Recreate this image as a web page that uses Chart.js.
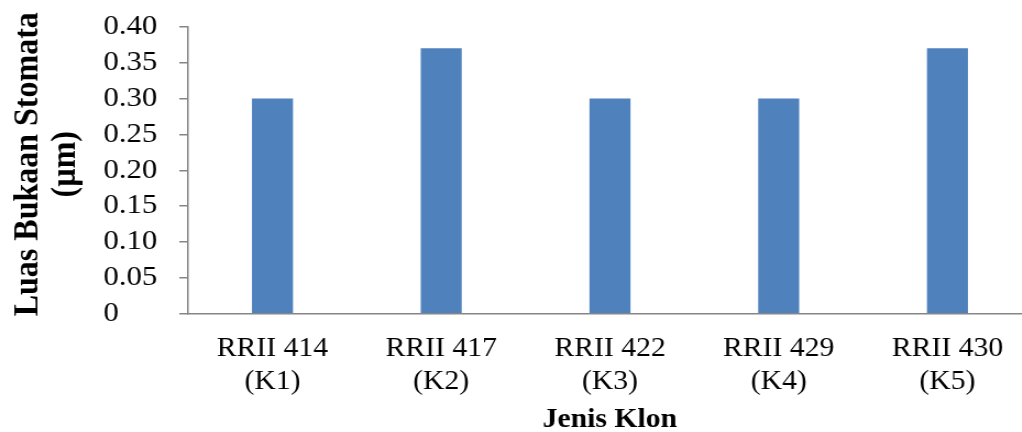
<!DOCTYPE html>
<html>
<head>
<meta charset="utf-8">
<script src="https://cdn.jsdelivr.net/npm/chart.js@4"></script>
<style>
  html, body { margin: 0; padding: 0; background: #fff; overflow: hidden; }
  /* chart is drawn a bit narrow and stretched sideways */
  #wrap { width: 945px; height: 432px; transform: scaleX(1.1); transform-origin: 0 0; }
</style>
</head>
<body>
<div id="wrap"><canvas id="klonChart"></canvas></div>
<script>
// Luas bukaan stomata per klon
const klon = [["RRII 414", "(K1)"], ["RRII 417", "(K2)"], ["RRII 422", "(K3)"], ["RRII 429", "(K4)"], ["RRII 430", "(K5)"]];
const luasBukaan = [0.30, 0.37, 0.30, 0.30, 0.37];
const yTicks = [0, 0.05, 0.10, 0.15, 0.20, 0.25, 0.30, 0.35, 0.40];
const yTitle = ["Luas Bukaan Stomata", "(µm)"];

const serif = "'Liberation Serif', 'Times New Roman', serif";
const axisGray = "#868686";

// judul sumbu Y, dua baris diputar 90 derajat
const yTitlePlugin = {
  id: "yTitle",
  afterDraw(chart) {
    const { ctx, chartArea } = chart;
    const cy = (chartArea.top + chartArea.bottom) / 2 - 6;
    const xs = [25.5, 60];
    ctx.save();
    ctx.fillStyle = "#000";
    ctx.font = "bold 32px " + serif;
    ctx.textAlign = "center";
    ctx.textBaseline = "middle";
    yTitle.forEach((line, i) => {
      ctx.save();
      ctx.translate(xs[i], cy);
      ctx.rotate(-Math.PI / 2);
      ctx.fillText(line, 0, 0);
      ctx.restore();
    });
    ctx.restore();
  },
};

const ctx = document.getElementById("klonChart").getContext("2d");
const klonChart = new Chart(ctx, {
  type: "bar",
  data: {
    labels: klon,
    datasets: [
      {
        label: "Luas Bukaan Stomata",
        data: luasBukaan,
        backgroundColor: "#4F81BD",
        categoryPercentage: 1,
        barPercentage: 0.243,
      },
    ],
  },
  plugins: [yTitlePlugin],
  options: {
    responsive: true,
    maintainAspectRatio: false,
    animation: false,
    layout: { padding: { left: 94, right: 7, top: -1.5, bottom: -4 } },
    plugins: {
      legend: { display: false },
      tooltip: { enabled: false },
    },
    scales: {
      x: {
        grid: { display: false, drawTicks: false },
        border: { display: true, color: axisGray, width: 1.5 },
        ticks: {
          color: "#000",
          padding: 19,
          maxRotation: 0,
          autoSkip: false,
          font: { family: serif, size: 27, lineHeight: 1.22 },
        },
        title: {
          display: true,
          text: "Jenis Klon",
          color: "#000",
          padding: { top: -14, bottom: 0 },
          font: { family: serif, size: 27, weight: "bold" },
        },
      },
      y: {
        min: 0,
        max: 0.4,
        afterBuildTicks: (axis) => {
          axis.ticks = yTicks.map((v) => ({ value: v }));
        },
        grid: {
          drawOnChartArea: false,
          drawTicks: true,
          tickLength: 8,
          color: axisGray,
          lineWidth: 1.5,
        },
        border: { display: true, color: axisGray, width: 1.5 },
        ticks: {
          color: "#000",
          crossAlign: "far",
          autoSkip: false,
          padding: 10,
          font: { family: serif, size: 28 },
          callback: (v) => (v === 0 ? "0" : v.toFixed(2)),
        },
      },
    },
  },
});
</script>
</body>
</html>
